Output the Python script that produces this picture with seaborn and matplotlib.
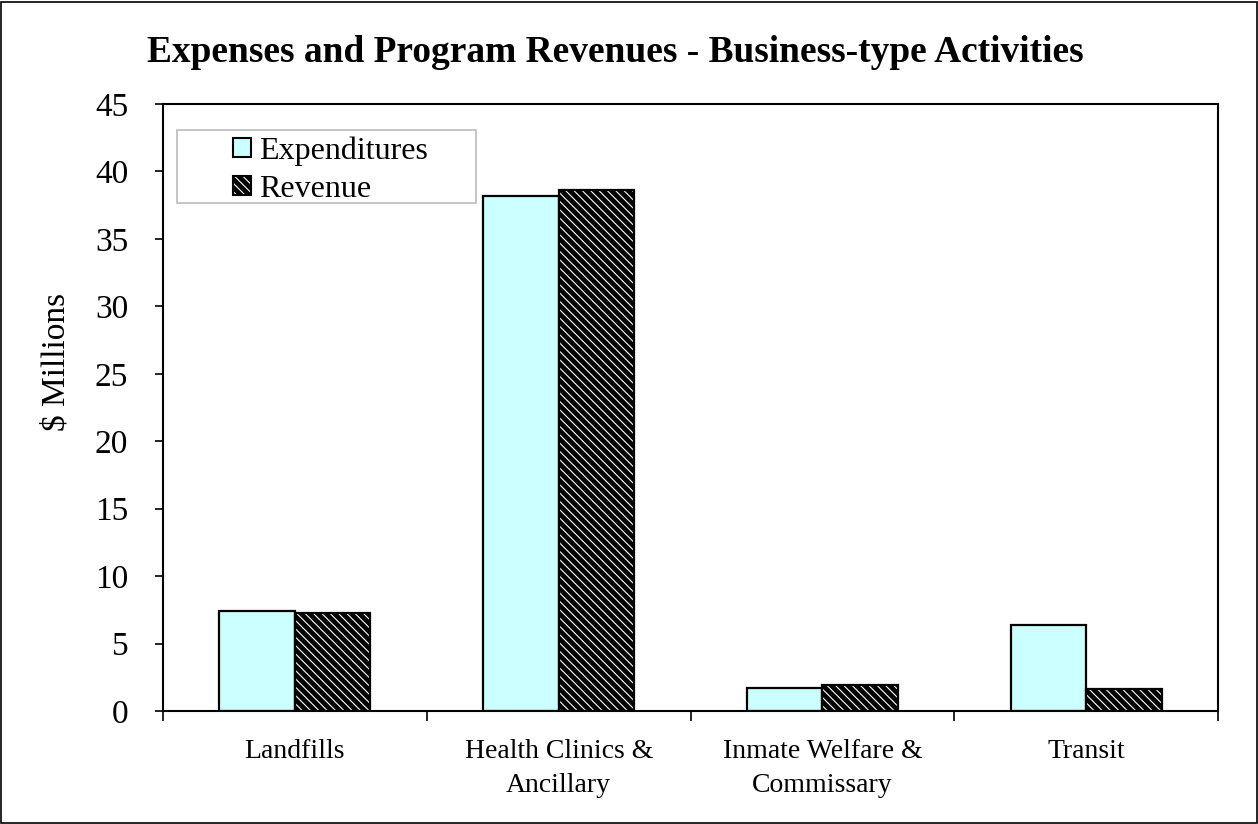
"""
Expenses and program revenues for business-type activities,
drawn as grouped bars with a hatched revenue series.
"""
import matplotlib

matplotlib.use("Agg")
import matplotlib.pyplot as plt
import pandas as pd
import seaborn as sns
from matplotlib.patches import Patch, Rectangle

categories = [
    "Landfills",
    "Health Clinics &\nAncillary",
    "Inmate Welfare &\nCommissary",
    "Transit",
]
expenditures = [7.4, 38.2, 1.7, 6.4]
revenue = [7.25, 38.6, 1.9, 1.65]
series = ["Expenditures", "Revenue"]

dataf = pd.DataFrame(
    {
        "category": categories * 2,
        "series": [series[0]] * len(categories) + [series[1]] * len(categories),
        "value": expenditures + revenue,
    }
)

HATCH = "\\\\\\\\"
CYAN = "#CCFFFF"

sns.set_style(
    "white",
    {
        "text.color": "black",
        "axes.labelcolor": "black",
        "xtick.color": "black",
        "ytick.color": "black",
    },
)
plt.rcParams["font.family"] = ["Liberation Serif", "DejaVu Serif"]
plt.rcParams["hatch.linewidth"] = 0.8

fig = plt.figure(figsize=(12.58, 8.24), dpi=100)
ax = fig.add_axes([0.1296, 0.1371, 0.8386, 0.7367])

sns.barplot(
    data=dataf,
    x="category",
    y="value",
    hue="series",
    palette=[CYAN, "black"],
    width=0.573,
    edgecolor="black",
    linewidth=1.6,
    saturation=1,
    legend=False,
    ax=ax,
)

# revenue bars: black with white diagonal hatch, then a black outline on top
for p in ax.containers[1]:
    p.set_facecolor("black")
    p.set_edgecolor("white")
    p.set_linewidth(0)
    p.set_hatch(HATCH)
    if hasattr(p, "set_hatchcolor"):
        p.set_hatchcolor("white")
    ax.add_patch(
        Rectangle(
            p.get_xy(),
            p.get_width(),
            p.get_height(),
            fill=False,
            edgecolor="black",
            linewidth=1.6,
            zorder=p.get_zorder() + 0.1,
        )
    )

ax.set_ylim(0, 45)
ax.set_xlim(-0.5, 3.5)
ax.set_yticks(range(0, 50, 5))
ax.tick_params(
    axis="y", labelsize=24, length=6, width=1.2, direction="out", left=True, pad=19
)
ax.set_xticks([-0.5, 0.5, 1.5, 2.5, 3.5], minor=True)
ax.tick_params(axis="x", which="major", length=0, labelsize=20, pad=20)
ax.tick_params(axis="x", which="minor", length=7, width=1.2, direction="out", bottom=True)
for lab in ax.get_xticklabels():
    lab.set_linespacing(1.5)
ax.set_xlabel("")
ax.set_ylabel("\\$ Millions", fontsize=24)
ax.yaxis.set_label_coords(-0.0863, 0.575)
for s in ax.spines.values():
    s.set_color("black")
    s.set_linewidth(1.5)

fig.text(
    615 / 1258,
    1 - 52 / 824,
    "Expenses and Program Revenues - Business-type Activities",
    fontsize=26.9,
    fontweight="bold",
    ha="center",
    va="center",
)

# legend: frame drawn separately to get the wide box of the source
ax.add_patch(
    Rectangle(
        (0.0133, 0.837),
        0.2834,
        0.12,
        transform=ax.transAxes,
        facecolor="white",
        edgecolor="#BBBBBB",
        linewidth=1.2,
        zorder=4,
    )
)
h_exp = Patch(facecolor=CYAN, edgecolor="black", linewidth=1.5)
h_rev = (
    Patch(facecolor="black", edgecolor="white", linewidth=0, hatch=HATCH),
    Patch(fill=False, edgecolor="black", linewidth=1.5),
)
leg = ax.legend(
    [h_exp, h_rev],
    series,
    loc="upper left",
    bbox_to_anchor=(0.0664, 0.947),
    fontsize=23,
    frameon=False,
    handlelength=0.55,
    handleheight=0.55,
    handletextpad=0.25,
    borderpad=0,
    labelspacing=0.28,
    borderaxespad=0,
)
leg.set_zorder(5)

fig.patches.append(
    Rectangle(
        (0.001, 0.001),
        0.998,
        0.996,
        transform=fig.transFigure,
        fill=False,
        edgecolor="black",
        linewidth=1.2,
    )
)

fig.savefig("out.png", dpi=100)
